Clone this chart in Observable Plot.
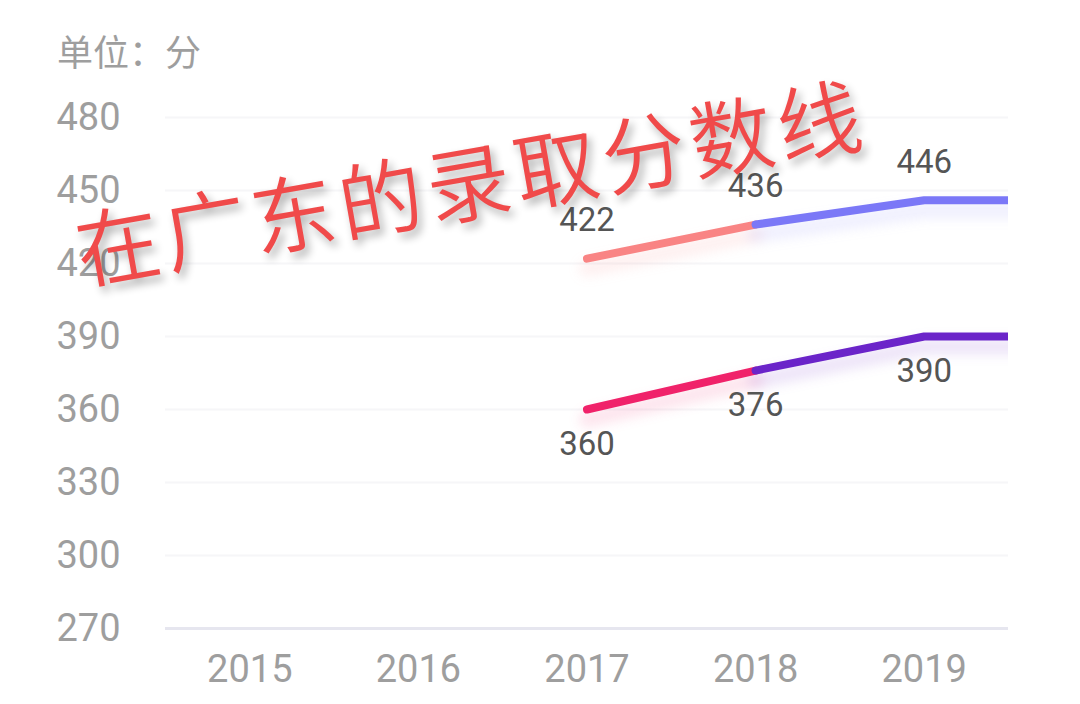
<!DOCTYPE html>
<html>
<head>
<meta charset="utf-8">
<script src="https://cdn.jsdelivr.net/npm/d3@7"></script>
<script src="https://cdn.jsdelivr.net/npm/@observablehq/plot@0.6"></script>
<style>
  html, body { margin: 0; padding: 0; background: #fff; }
  #wrap { position: relative; width: 1080px; height: 704px; overflow: hidden; font-family: Roboto, "Noto Sans CJK SC", sans-serif; }
  #unit { position: absolute; left: 57px; top: 26px; font-size: 36px; color: #9e9e9e; font-family: "Noto Sans CJK SC", sans-serif; line-height: 48px; }
  #chart { position: absolute; left: 0; top: 0; }
  #stamp {
    position: absolute; left: 470px; top: 178px;
    transform: translate(-50%, -50%) rotate(-10deg);
    white-space: nowrap; font-family: "Noto Sans CJK SC", sans-serif; font-weight: 350;
    font-size: 84px; letter-spacing: 5px; color: #f04a4a;
    text-shadow: 3px 6px 8px rgba(0,0,0,0.32);
  }
</style>
</head>
<body>
<div id="wrap">
  <div id="chart"></div>
  <div id="unit">单位：分</div>
  <div id="stamp">在广东的录取分数线</div>
</div>
<script>
// ---- data ----
const years = [2015, 2016, 2017, 2018, 2019, 2020];      // 2020 = flat continuation clipped at the right edge
const xTickYears = [2015, 2016, 2017, 2018, 2019];
const yTicks = [270, 300, 330, 360, 390, 420, 450, 480];
const upperScores = [null, null, 422, 436, 446, 446];
const lowerScores = [null, null, 360, 376, 390, 390];
const labelYears = [2017, 2018, 2019];
// segment colours: first segment (2017→2018), second (2018→end)
const upperColors = ["#f98484", "#7b78f7"];
const lowerColors = ["#f0226a", "#6b24c9"];

// ---- build segment rows ----
function segments(values, colors, name) {
  const rows = [];
  years.forEach((yr, i) => {
    const v = values[i];
    if (v == null) return;
    if (yr <= 2018) rows.push({year: yr, value: v, seg: name + "-a", color: colors[0]});
    if (yr >= 2018) rows.push({year: yr, value: v, seg: name + "-b", color: colors[1]});
  });
  return rows;
}
const segRows = [...segments(upperScores, upperColors, "upper"), ...segments(lowerScores, lowerColors, "lower")];
const upperLabels = years.map((yr, i) => ({year: yr, value: upperScores[i]})).filter(d => labelYears.includes(d.year));
const lowerLabels = years.map((yr, i) => ({year: yr, value: lowerScores[i]})).filter(d => labelYears.includes(d.year));

const chart = Plot.plot({
  width: 1080,
  height: 704,
  marginTop: 117,
  marginBottom: 76,
  marginLeft: 165,
  marginRight: 72,
  style: {fontFamily: "Roboto, sans-serif", background: "transparent"},
  x: {type: "linear", domain: [2014.5, 2019.5]},
  y: {domain: [270, 480]},
  marks: [
    Plot.gridY(yTicks, {stroke: "#f6f6f8", strokeOpacity: 1, strokeWidth: 2}),
    Plot.ruleY([270], {stroke: "#e6e6ef", strokeWidth: 3}),
    Plot.axisY(yTicks, {tickSize: 0, tickPadding: 45, fontSize: 38, fill: "#9e9e9e", label: null}),
    Plot.axisX(xTickYears, {tickSize: 0, tickPadding: 27, fontSize: 38, fill: "#9e9e9e", label: null, tickFormat: d => String(d)}),
    // soft glow under the lines
    Plot.line(segRows, {x: "year", y: "value", z: "seg", stroke: "color", strokeWidth: 16, strokeOpacity: 0.12, dy: 10, clip: true, imageFilter: "blur(6px)"}),
    Plot.line(segRows, {x: "year", y: "value", z: "seg", stroke: "color", strokeWidth: 8, strokeLinecap: "round", clip: true}),
    Plot.text(upperLabels, {x: "year", y: "value", text: d => String(d.value), dy: -38, fontSize: 33, fill: "#555555"}),
    Plot.text(lowerLabels, {x: "year", y: "value", text: d => String(d.value), dy: 35, fontSize: 33, fill: "#555555"})
  ]
});
document.getElementById("chart").appendChild(chart);
</script>
</body>
</html>
